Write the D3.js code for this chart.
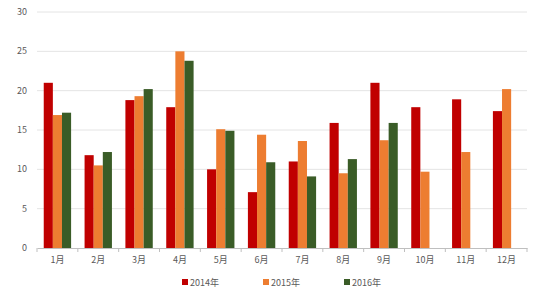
<!DOCTYPE html>
<meta charset="utf-8">
<head>
  <title>Monthly bars</title>
</head>
<style>
body { margin: 0; background: #fff; }
text { font-family: "Noto Sans CJK SC", "DejaVu Sans", sans-serif; fill: #595959; }
</style>
<body>
  <svg width="550" height="300"></svg>
  <script src="https://cdnjs.cloudflare.com/ajax/libs/d3/7.8.5/d3.min.js"></script>
  <script>
var months = ['1月','2月','3月','4月','5月','6月','7月','8月','9月','10月','11月','12月']
var years = ['2014年','2015年','2016年']
var v2014 = [21.0, 11.8, 18.8, 17.9, 10.0, 7.1, 11.0, 15.9, 21.0, 17.9, 18.9, 17.4]
var v2015 = [16.9, 10.5, 19.3, 25.0, 15.1, 14.4, 13.6, 9.5, 13.7, 9.7, 12.2, 20.2]
var v2016 = [17.2, 12.2, 20.2, 23.8, 14.9, 10.9, 9.1, 11.3, 15.9, null, null, null]
var yTicks = [0, 5, 10, 15, 20, 25, 30]
var colors = ['#c00000', '#ed7d31', '#3a5c27']

var series = [v2014, v2015, v2016]
var svg = d3.select('svg')
var mLeft = 37, mRight = 527, mTop = 12, mBottom = 248

var x = d3.scaleBand().domain(months).range([mLeft, mRight]).paddingInner(0.33).paddingOuter(0.165)
var x1 = d3.scaleBand().domain(d3.range(3)).range([0, x.bandwidth()])
var y = d3.scaleLinear().domain([0, 30]).range([mBottom, mTop])

// gridlines
svg.append('g').selectAll('line')
  .data(yTicks.slice(1))
  .enter().append('line')
  .attr('x1', mLeft).attr('x2', mRight)
  .attr('y1', function(d) { return y(d) }).attr('y2', function(d) { return y(d) })
  .attr('stroke', '#e4e4e4').attr('stroke-width', 1)

// y labels
svg.append('g').selectAll('text')
  .data(yTicks)
  .enter().append('text')
  .attr('x', 27).attr('y', function(d) { return y(d) + 3 })
  .attr('text-anchor', 'end').attr('font-size', 9)
  .text(function(d) { return d })

// bars
var groups = svg.append('g').selectAll('g')
  .data(series)
  .enter().append('g')
  .attr('fill', function(d, i) { return colors[i] })

groups.each(function(vals, i) {
  d3.select(this).selectAll('rect')
    .data(vals.map(function(v, j) { return {m: months[j], v: v} }).filter(function(d) { return d.v != null }))
    .enter().append('rect')
    .attr('x', function(d) { return x(d.m) + x1(i) })
    .attr('width', x1.bandwidth())
    .attr('y', function(d) { return y(d.v) })
    .attr('height', function(d) { return y(0) - y(d.v) })
})

// x axis
var xAxis = d3.axisBottom(x).tickSize(0).tickPadding(9)
var gx = svg.append('g').attr('transform', 'translate(0,' + mBottom + ')').call(xAxis)
gx.select('.domain').attr('stroke', '#bfbfbf')
gx.selectAll('text').attr('font-size', 9).attr('fill', '#595959')
  .style('font-family', '"Noto Sans CJK SC", sans-serif')
gx.selectAll('line.sep')
  .data(d3.range(13))
  .enter().append('line')
  .attr('class', 'sep')
  .attr('x1', function(d) { return mLeft + d * (mRight - mLeft) / 12 })
  .attr('x2', function(d) { return mLeft + d * (mRight - mLeft) / 12 })
  .attr('y1', 0).attr('y2', 4)
  .attr('stroke', '#bfbfbf')

// legend
var legendX = [182, 263, 344]
var lg = svg.append('g').selectAll('g')
  .data(years)
  .enter().append('g')
  .attr('transform', function(d, i) { return 'translate(' + legendX[i] + ',283)' })
lg.append('rect').attr('x', 0).attr('y', -4).attr('width', 6).attr('height', 6)
  .attr('fill', function(d, i) { return colors[i] })
lg.append('text').attr('x', 8).attr('y', 3).attr('font-size', 9)
  .text(function(d) { return d })
  </script>
</body>
</html>
